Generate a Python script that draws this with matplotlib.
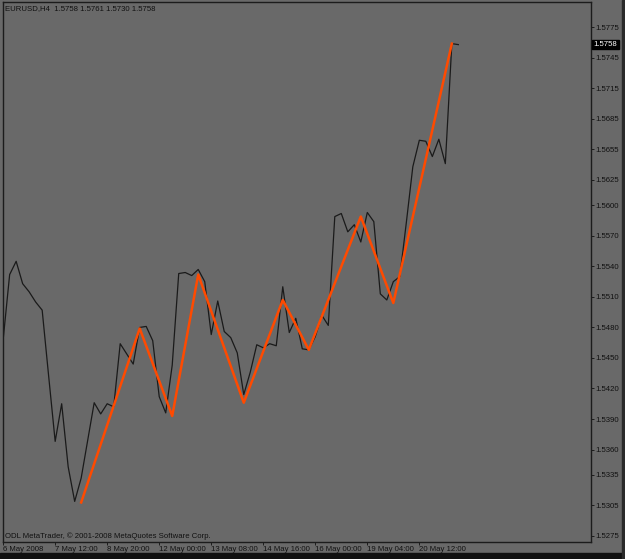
import matplotlib
matplotlib.use("Agg")
import matplotlib.pyplot as plt
import matplotlib.transforms as mtransforms
from matplotlib.patches import Rectangle

# EURUSD H4 closes, one per bar (bar 0 = 6 May 2008)
closes = [
    1.5468, 1.5532, 1.5545, 1.5523, 1.5515, 1.5505, 1.5497, 1.5432, 1.5368, 1.5405,
    1.5343, 1.5309, 1.5332, 1.5369, 1.5406, 1.5395, 1.5405, 1.5402, 1.5464, 1.5454,
    1.5444, 1.5480, 1.5481, 1.5467, 1.5412, 1.5396, 1.5443, 1.5533, 1.5534, 1.5531,
    1.5537, 1.5525, 1.5473, 1.5506, 1.5476, 1.5470, 1.5455, 1.5414, 1.5436, 1.5463,
    1.5460, 1.5464, 1.5462, 1.5520, 1.5475, 1.5489, 1.5459, 1.5458, 1.5471, 1.5492,
    1.5482, 1.5589, 1.5592, 1.5574, 1.5581, 1.5564, 1.5593, 1.5584, 1.5513, 1.5507,
    1.5525, 1.5530, 1.5583, 1.5638, 1.5664, 1.5663, 1.5648, 1.5665, 1.5641, 1.5759,
    1.5758,
]

# ZigZag turning points (bar index, price)
zz_bars = [12, 21, 26, 30, 37, 43, 47, 55, 60, 69]
zz_prices = [1.5308, 1.5479, 1.5393, 1.5532, 1.5406, 1.5507, 1.5458, 1.5589, 1.5504, 1.5759]

price_ticks = [1.5275, 1.5305, 1.5335, 1.5360, 1.5390, 1.5420, 1.5450, 1.5480,
               1.5510, 1.5540, 1.5570, 1.5600, 1.5625, 1.5655, 1.5685, 1.5715,
               1.5745, 1.5775]
date_ticks = [0, 8, 16, 24, 32, 40, 48, 56, 64]
date_labels = ["6 May 2008", "7 May 12:00", "8 May 20:00", "12 May 00:00",
               "13 May 08:00", "14 May 16:00", "16 May 00:00", "19 May 04:00",
               "20 May 12:00"]
last_price = 1.5758
header = "EURUSD,H4  1.5758 1.5761 1.5730 1.5758"
footer = "ODL MetaTrader, \u00a9 2001-2008 MetaQuotes Software Corp."

BG = "#696969"
FONT = "Liberation Sans"
FS = 5.6

W, H = 625, 559
fig = plt.figure(figsize=(W / 100, H / 100), dpi=100, facecolor=BG)
ax = fig.add_axes([2.5 / W, 1 - 542 / H, (591 - 2.5) / W, (542 - 2) / H])
ax.set_facecolor(BG)

bars = list(range(len(closes)))
ax.plot(bars, closes, color="#1a1a1a", lw=0.9, zorder=2)
ax.plot(zz_bars, zz_prices, color="#ff4a00", lw=1.8, zorder=3)

ax.set_xlim(-0.1, 90.4)
ax.set_ylim(1.52691, 1.57999)

for s in ax.spines.values():
    s.set_color("#1c1c1c")
    s.set_linewidth(1.0)

ax.yaxis.tick_right()
ax.set_yticks(price_ticks)
ax.set_yticklabels([f"{p:.4f}" for p in price_ticks], fontsize=FS, family=FONT,
                   color="#111111")
ax.tick_params(axis="y", direction="out", length=2.2, width=0.6, pad=1.2,
               colors="#111111")

ax.set_xticks(date_ticks)
ax.set_xticklabels(date_labels, fontsize=FS, family=FONT, color="#111111")
ax.tick_params(axis="x", direction="out", length=2.2, width=0.6, pad=1.0,
               colors="#111111")
for lbl in ax.get_xticklabels():
    lbl.set_ha("left")

# current price marker on the scale
trans = mtransforms.blended_transform_factory(ax.transAxes, ax.transData)
ax.text(1.0045, last_price, f"{last_price:.4f}", transform=trans, fontsize=FS,
        family=FONT, color="white", va="center", ha="left",
        bbox=dict(boxstyle="square,pad=0.15", fc="black", ec="black"))

ax.text(0.005, 0.994, header, transform=ax.transAxes, fontsize=FS, family=FONT,
        color="#111111", va="top", ha="left")
ax.text(0.005, 0.004, footer, transform=ax.transAxes, fontsize=FS, family=FONT,
        color="#111111", va="bottom", ha="left")

# dark frame strips of the terminal window
fig.patches.append(Rectangle((0, 0), 1, 6 / H, transform=fig.transFigure,
                             color="#111111", zorder=0))
fig.patches.append(Rectangle((622 / W, 0), 3 / W, 1, transform=fig.transFigure,
                             color="#2a2a2a", zorder=0))

fig.savefig("out.png", dpi=100, facecolor=BG)
plt.close(fig)
print("Wrote out.png")
